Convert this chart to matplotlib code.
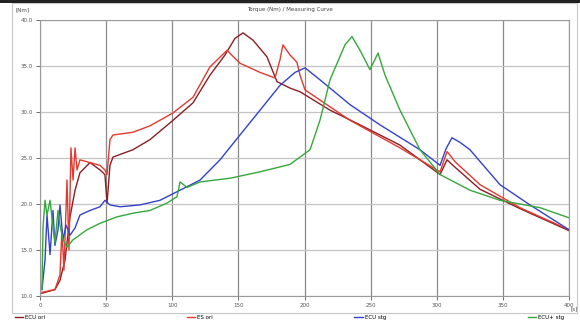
import matplotlib
matplotlib.use("Agg")
import matplotlib.pyplot as plt
from matplotlib.lines import Line2D
from matplotlib.patches import Rectangle

# curve values (x in s, y in Nm)
maroon_x = [1.5, 11.3, 15.1, 18.9, 22.7, 26.5, 30.2, 37.8, 45.4, 49.1, 50.7, 52.9, 55.2, 70.3, 83.2,
            100.6, 115.7, 128.5, 139.9, 147.4, 153.5, 161.1, 171.6, 179.2, 189.0, 196.6, 219.3, 242.0,
            272.2, 302.5, 307.8, 313.8, 332.7, 362.9, 400.0]
maroon_y = [10.3, 10.7, 11.7, 13.9, 18.6, 21.5, 23.4, 24.5, 23.7, 23.2, 20.1, 24.2, 25.1, 25.9, 27.0,
            29.1, 31.0, 34.0, 36.2, 38.0, 38.6, 37.8, 36.0, 33.3, 32.6, 32.2, 30.2, 28.6,
            26.4, 23.2, 24.8, 24.0, 21.6, 19.5, 17.1]

red_x = [1.5, 11.3, 15.1, 16.6, 18.1, 20.4, 21.9, 23.4, 25.0, 26.5, 28.0, 30.2, 37.8, 45.4, 49.1, 50.7,
         52.9, 55.2, 70.3, 83.2, 100.6, 115.7, 128.5, 141.4, 151.2, 166.4, 177.7, 181.5, 183.7, 189.0,
         194.3, 196.6, 200.4, 211.7, 234.4, 272.2, 302.5, 307.8, 313.8, 332.7, 362.9, 400.0]
red_y = [10.4, 10.7, 12.3, 17.2, 12.8, 22.6, 15.0, 26.1, 22.6, 26.1, 23.7, 24.8, 24.5, 24.2, 23.7, 23.2,
         27.0, 27.5, 27.8, 28.5, 29.9, 31.6, 34.9, 36.7, 35.3, 34.3, 33.7, 35.7, 37.3, 36.2,
         35.4, 34.0, 32.4, 31.3, 29.1, 26.1, 23.5, 25.7, 24.6, 22.1, 19.6, 17.2]

blue_x = [1.5, 3.8, 5.3, 7.6, 9.8, 11.3, 13.6, 15.1, 17.4, 19.7, 22.7, 26.5, 30.2, 37.8, 45.4, 49.1,
          52.9, 60.5, 75.6, 90.7, 105.9, 121.0, 136.1, 151.2, 166.4, 181.5, 192.8, 200.4, 211.7, 234.4,
          257.1, 287.3, 302.5, 307.0, 311.5, 317.6, 325.1, 347.8, 370.5, 400.0]
blue_y = [10.7, 13.9, 18.8, 14.5, 19.3, 15.5, 17.2, 19.9, 16.1, 17.7, 16.6, 17.4, 18.8, 19.3, 19.7, 20.4,
          19.9, 19.7, 19.9, 20.4, 21.5, 22.6, 24.8, 27.5, 30.2, 32.9, 34.3, 34.8, 33.5, 30.8,
          28.6, 25.9, 24.2, 26.0, 27.2, 26.7, 25.9, 22.1, 19.9, 17.2]

green_x = [1.5, 2.3, 3.8, 5.3, 7.6, 9.8, 11.3, 13.6, 15.1, 17.4, 20.4, 24.9, 35.5, 45.4, 58.2, 70.3,
           83.2, 96.0, 103.6, 105.9, 111.2, 121.0, 143.7, 166.4, 189.0, 204.2, 211.7, 219.3, 230.6,
           235.9, 242.0, 249.5, 255.6, 260.9, 272.2, 287.3, 302.5, 325.1, 347.8, 378.1, 400.0]
green_y = [10.7, 17.5, 20.4, 18.8, 20.4, 17.5, 15.8, 19.3, 17.7, 16.1, 15.3, 16.1, 17.2, 17.9, 18.6, 19.0,
           19.3, 20.1, 20.8, 22.4, 21.8, 22.4, 22.8, 23.5, 24.3, 25.9, 29.1, 33.5, 37.3,
           38.2, 36.7, 34.6, 36.4, 34.0, 30.2, 25.9, 23.2, 21.5, 20.4, 19.6, 18.5]

series_labels = ["ECU ori", "ES ori", "ECU stg", "ECU+ stg"]
x_ticks = [0, 50, 100, 150, 200, 250, 300, 350, 400]
y_ticks = [10, 15, 20, 25, 30, 35, 40]

colors = ["#8b1e24", "#e23a30", "#3342cc", "#35a83c"]

fig = plt.figure(figsize=(5.8, 3.22), dpi=100)
fig.patch.set_facecolor("white")

# outer frame and dark top strip
fig.patches.append(Rectangle((12 / 580, 9 / 322), 565 / 580, 310 / 322, transform=fig.transFigure,
                             fill=False, edgecolor="#c8c8c8", linewidth=0.8))
fig.patches.append(Rectangle((0, 1 - 3 / 322), 1, 3 / 322, transform=fig.transFigure,
                             facecolor="#222222", edgecolor="none"))

ax = fig.add_axes([40 / 580, 26 / 322, 529 / 580, 276 / 322])
for xs, ys, c in zip([maroon_x, red_x, blue_x, green_x], [maroon_y, red_y, blue_y, green_y], colors):
    ax.plot(xs, ys, color=c, linewidth=1.0)

ax.set_xlim(0, 400)
ax.set_ylim(10, 40)
ax.set_xticks(x_ticks)
ax.set_yticks(y_ticks)
ax.set_xticklabels([str(t) for t in x_ticks])
ax.set_yticklabels([f"{t:.1f}" for t in y_ticks])
ax.tick_params(labelsize=4, length=3, width=0.6, colors="#555555", pad=2)
ax.xaxis.grid(True, color="#8a8a8a", linewidth=0.9)
ax.yaxis.grid(True, color="#c4c4c4", linewidth=0.9)
ax.set_axisbelow(True)
for s in ax.spines.values():
    s.set_color("#9a9a9a")
    s.set_linewidth(0.8)

fig.text(290 / 580, 1 - 9 / 322, "Torque (Nm) / Measuring Curve", fontsize=4, ha="center",
         va="center", color="#444444")
fig.text(16 / 580, 1 - 10 / 322, "[Nm]", fontsize=4, ha="left", va="center", color="#444444")
fig.text(574 / 580, 1 - 309 / 322, "[s]", fontsize=4, ha="center", va="center", color="#444444")

handles = [Line2D([], [], color=c, linewidth=1.0) for c in colors]
fig.legend(handles, series_labels, ncol=4, loc="lower left", mode="expand",
           bbox_to_anchor=(14 / 580, 0.004, 0.95, 0.022), frameon=False, fontsize=4,
           handlelength=1.5, handletextpad=0.4, borderaxespad=0, borderpad=0.1)

fig.savefig("out.png", dpi=100)
